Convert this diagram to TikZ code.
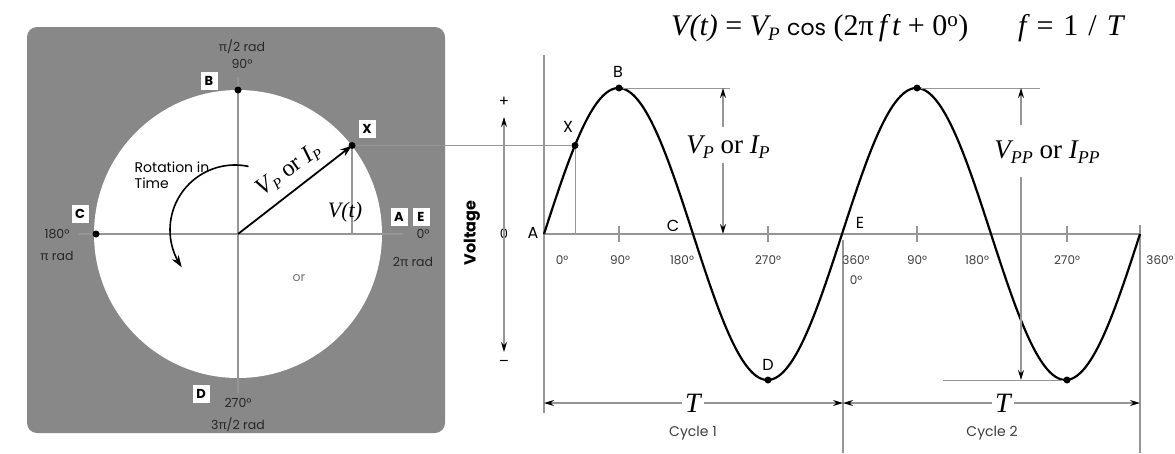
\documentclass[tikz,border=0pt]{standalone}
\usepackage{fontspec}
\setmainfont{Liberation Serif}
\newfontfamily\gothic{Poppins}
\newfontfamily\grk{Noto Sans}
\usetikzlibrary{arrows.meta}
\definecolor{panelg}{RGB}{136,136,136}
\definecolor{lineg}{RGB}{150,150,150}
\definecolor{degc}{RGB}{60,60,60}
\newcommand{\sbs}[2]{\raisebox{-0.35ex}{\fontsize{#1}{#1}\selectfont\itshape #2}}
\newcommand{\gpi}{{\grk π}}
\begin{document}
\begin{tikzpicture}[x=1pt,y=-1pt,
 gl/.style={draw=lineg,line width=1.2pt},
 wave/.style={draw=black,line width=2.2pt},
 dot/.style={circle,fill=black,inner sep=0pt,minimum size=7pt},
 lbox/.style={fill=white,inner sep=0pt,minimum width=17pt,minimum height=18pt,font=\gothic\fontsize{13}{13}\selectfont\bfseries},
 deg/.style={font=\gothic\fontsize{12}{12}\selectfont,text=degc,inner sep=0pt},
 pdeg/.style={font=\gothic\fontsize{12.5}{12.5}\selectfont,text=black!85,inner sep=0pt},
 lett/.style={font=\gothic\fontsize{16}{16}\selectfont,inner sep=0pt},
 ser/.style={font=\fontsize{#1}{#1}\selectfont,inner sep=0pt},
 dimln/.style={draw=lineg,line width=1.2pt,-{Stealth[length=10pt,width=6pt,color=black]}},
 dimboth/.style={draw=lineg,line width=1.2pt,{Stealth[length=10pt,width=6pt,color=black]}-{Stealth[length=10pt,width=6pt,color=black]}}
]
\useasboundingbox (0,0) rectangle (1175,453);
% ---------- left panel ----------
\fill[panelg,rounded corners=10pt] (27,27) rectangle (445,433);
\fill[white] (238,234) circle[radius=144pt];
\coordinate (O) at (238,234);
\coordinate (hL) at (78,234);
\coordinate (hR) at (403,234);
\coordinate (vT) at (238,77);
\coordinate (vB) at (238,393);
\draw[gl] (hL) -- (hR);
\draw[gl] (vT) -- (vB);
\node[dot] (Bc) at (238,90) {};
\node[dot] (Cc) at (96,234) {};
\node[dot] (Xc) at (352,145.5) {};
\coordinate (XcF) at (352,234);
\draw[gl] (Xc) -- (XcF);
\draw[line width=1.8pt,-{Stealth[length=12pt,width=8pt]}] (O) -- (Xc.center);
\node[ser=24,rotate=36] (vpc) at (289,170) {\itshape V\sbs{15}{P} \upshape or \itshape I\sbs{15}{P}};
\node[ser=22] (vtc) at (345,212) {\itshape V(t)};
\node[font=\gothic\fontsize{14}{16}\selectfont,align=left,inner sep=0pt] (rot) at (172,175) {Rotation in\\Time};
\draw[line width=1.6pt,-{Stealth[length=12pt,width=8pt]}] plot[domain=78:215,samples=40] ({235+65*cos(\x)},{230-65*sin(\x)});
\node[pdeg] (pi2) at (242,47) {\gpi/2 rad};
\node[pdeg] (d90) at (242,64) {90°};
\node[lbox] (Bl) at (209,81) {B};
\node[lbox] (Xl) at (367,129) {X};
\node[lbox] (Cl) at (80,214) {C};
\node[pdeg] (d180) at (57,234) {180°};
\node[pdeg] (pir) at (57,256) {\gpi\ rad};
\node[lbox] (Al) at (399,217) {A};
\node[lbox] (El) at (421,217) {E};
\node[pdeg] (d0) at (423,234) {0°};
\node[pdeg] (p2r) at (413,262) {2\gpi\ rad};
\node[pdeg,text=black!55] (orl) at (299,278) {or};
\node[lbox] (Dl) at (201,394) {D};
\node[pdeg] (d270) at (238,403) {270°};
\node[pdeg] (p32) at (238,425) {3\gpi/2 rad};
% ---------- equation ----------
\node[ser=30,anchor=west] (eq) at (671,28) {\itshape V(t)\upshape\ = \itshape V\sbs{19}{P}\upshape\ {\gothic\fontsize{22}{22}\selectfont cos} (2π\,\itshape f\,t\upshape\ + 0\textsuperscript{o})};
\node[ser=30,anchor=west] (eqf) at (1018,28) {\itshape f\upshape\hspace{10pt}=\hspace{10pt}1\hspace{10pt}/\hspace{10pt}\itshape T};
% ---------- graph ----------
\coordinate (axT) at (544,55);
\coordinate (axB) at (544,413);
\coordinate (A0) at (544,234);
\coordinate (axR) at (1140,234);
\draw[gl] (axT) -- (axB);
\draw[gl] (A0) -- (axR);
\coordinate (E1) at (843,240);
\coordinate (E1b) at (843,453);
\draw[gl] (E1) -- (E1b);
\coordinate (R1) at (1140,225);
\coordinate (R1b) at (1140,453);
\draw[gl] (R1) -- (R1b);
\foreach \t in {619,768,917,1067}{\draw[gl] (\t,226) -- (\t,242);}
\draw[wave] plot[domain=544:1140,samples=240] (\x,{234-146*sin((\x-544)/298*360)});
\node[dot] (Bw) at (619,88) {};
\node[dot] (Xw) at (575,145.5) {};
\node[dot] (Dw) at (768,380) {};
\node[dot] (B2) at (917,88) {};
\node[dot] (D2) at (1067,380) {};
\coordinate (XwF) at (575,234);
\draw[gl,line width=1pt] (Xc) -- (Xw);
\draw[gl,line width=1pt] (Xw) -- (XwF);
\node[lett] (Aw) at (533,233) {A};
\node[lett] (Xwl) at (568,127) {X};
\node[lett] (Bwl) at (618,72) {B};
\node[lett] (Cwl) at (673,226) {C};
\node[lett] (Ewl) at (860,223) {E};
\node[lett] (Dwl) at (768,365) {D};
\node[deg] (g0) at (562,260) {0°};
\node[deg] (g90) at (620,260) {90°};
\node[deg] (g180) at (682,260) {180°};
\node[deg] (g270) at (768,260) {270°};
\node[deg] (g360) at (856,260) {360°};
\node[deg] (g0b) at (856,280) {0°};
\node[deg] (h90) at (917,260) {90°};
\node[deg] (h180) at (977,260) {180°};
\node[deg] (h270) at (1067,260) {270°};
\node[deg] (h360) at (1160,260) {360°};
% voltage axis
\node[font=\gothic\fontsize{16}{16}\selectfont\bfseries,rotate=90,inner sep=0pt] (volt) at (472,233) {Voltage};
\node[font=\gothic\fontsize{15}{15}\selectfont,inner sep=0pt] (plus) at (504,102) {+};
\node[font=\gothic\fontsize{13}{13}\selectfont,inner sep=0pt] (zero) at (504,234) {0};
\node[font=\gothic\fontsize{15}{15}\selectfont,inner sep=0pt] (minus) at (504,363) {–};
\coordinate (vup) at (504,117);
\coordinate (vdn) at (504,352);
\draw[dimln] ([yshift=-7pt]zero.north) -- (vup);
\draw[dimln] ([yshift=7pt]zero.south) -- (vdn);
% Vp dimension
\coordinate (vpe) at (730,88);
\draw[gl,line width=1pt] (Bw) -- (vpe);
\node[ser=27] (vpl) at (728,147) {\itshape V\sbs{18}{P} \upshape or \itshape I\sbs{18}{P}};
\coordinate (vpt) at (723,88);
\coordinate (vpb) at (723,234);
\coordinate (vps1) at (723,127);
\coordinate (vps2) at (723,163);
\draw[dimln] (vps1) -- (vpt);
\draw[dimln] (vps2) -- (vpb);
% Vpp dimension
\coordinate (vppe) at (1040,88);
\draw[gl,line width=1pt] (B2) -- (vppe);
\coordinate (vppb0) at (943,380);
\draw[gl,line width=1pt] (vppb0) -- (D2);
\node[ser=27] (vppl) at (1047,152) {\itshape V\sbs{18}{PP} \upshape or \itshape I\sbs{18}{PP}};
\coordinate (vppt) at (1021,88);
\coordinate (vppb) at (1021,380);
\coordinate (vpps1) at (1021,125);
\coordinate (vpps2) at (1021,177);
\draw[dimln] (vpps1) -- (vppt);
\draw[dimln] (vpps2) -- (vppb);
% period dimensions
\coordinate (t1a) at (544,403);
\coordinate (t1b) at (843,403);
\coordinate (t2b) at (1140,403);
\draw[dimboth] (t1a) -- (t1b);
\draw[dimboth] (t1b) -- (t2b);
\node[ser=28,fill=white,inner xsep=3pt] (T1) at (693,403) {\itshape T};
\node[ser=28,fill=white,inner xsep=3pt] (T2) at (1003,403) {\itshape T};
\node[font=\gothic\fontsize{14}{14}\selectfont,inner sep=0pt,text=degc] (cy1) at (693,433) {Cycle 1};
\node[font=\gothic\fontsize{14}{14}\selectfont,inner sep=0pt,text=degc] (cy2) at (992,433) {Cycle 2};
\end{tikzpicture}
\end{document}
